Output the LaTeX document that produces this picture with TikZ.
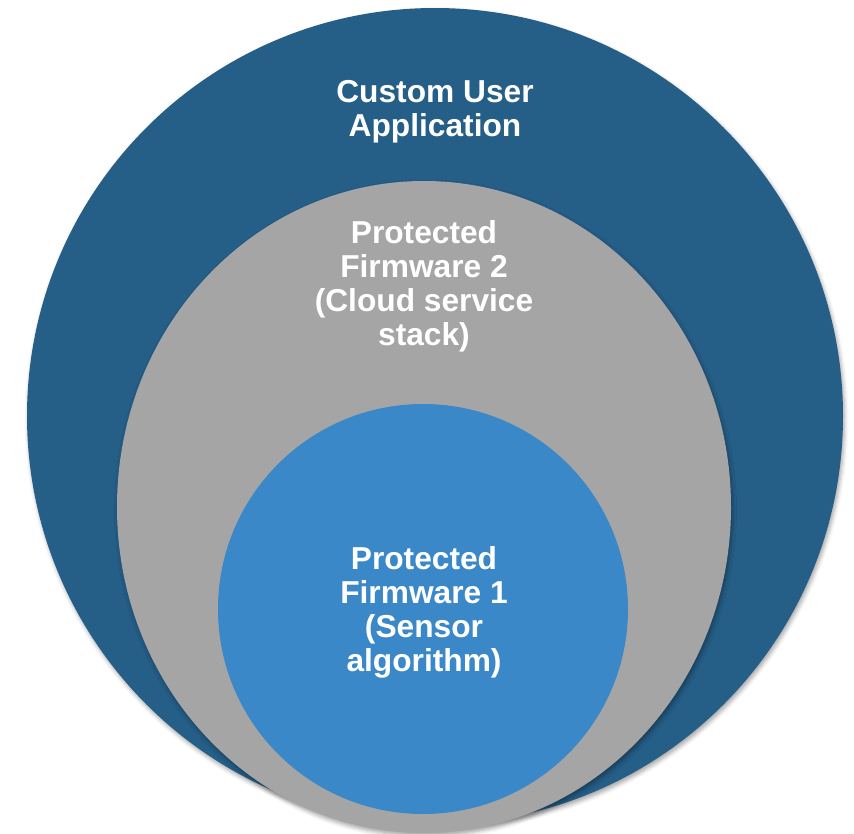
\documentclass[tikz,border=0pt]{standalone}
\usepackage{fontspec}
\setmainfont{Liberation Sans}
\usetikzlibrary{shapes.geometric,shadows.blur}

\definecolor{appblue}{RGB}{37,94,135}
\definecolor{fwgray}{RGB}{165,165,165}
\definecolor{sensorblue}{RGB}{58,136,200}

\tikzset{
  layer/.style={draw=none, inner sep=0pt, outer sep=0pt,
    blur shadow={shadow xshift=1.5pt, shadow yshift=-3pt,
                 shadow blur radius=4pt, shadow opacity=35}},
  label/.style={text=white, align=center, inner sep=0pt,
    font=\fontsize{31.7}{34}\selectfont\bfseries}
}

\begin{document}
\begin{tikzpicture}[x=1pt, y=-1pt]
  \clip (0,0) rectangle (854,833);

  % nested layers, outermost first
  \node[layer, circle, fill=appblue, minimum size=816pt]
    (app) at (435,416) {};
  \node[layer, ellipse, fill=fwgray, minimum width=614pt, minimum height=652pt]
    (fw2) at (424,507) {};
  \node[circle, fill=sensorblue, draw=none, inner sep=0pt, minimum size=410pt]
    (fw1) at (423,609) {};

  % layer captions
  \node[label] (appText) at (435,112) {Custom User\\Application};
  \node[label] (fw2Text) at (424,286) {Protected\\Firmware 2\\(Cloud service\\stack)};
  \node[label] (fw1Text) at (424,612) {Protected\\Firmware 1\\(Sensor\\algorithm)};
\end{tikzpicture}
\end{document}
